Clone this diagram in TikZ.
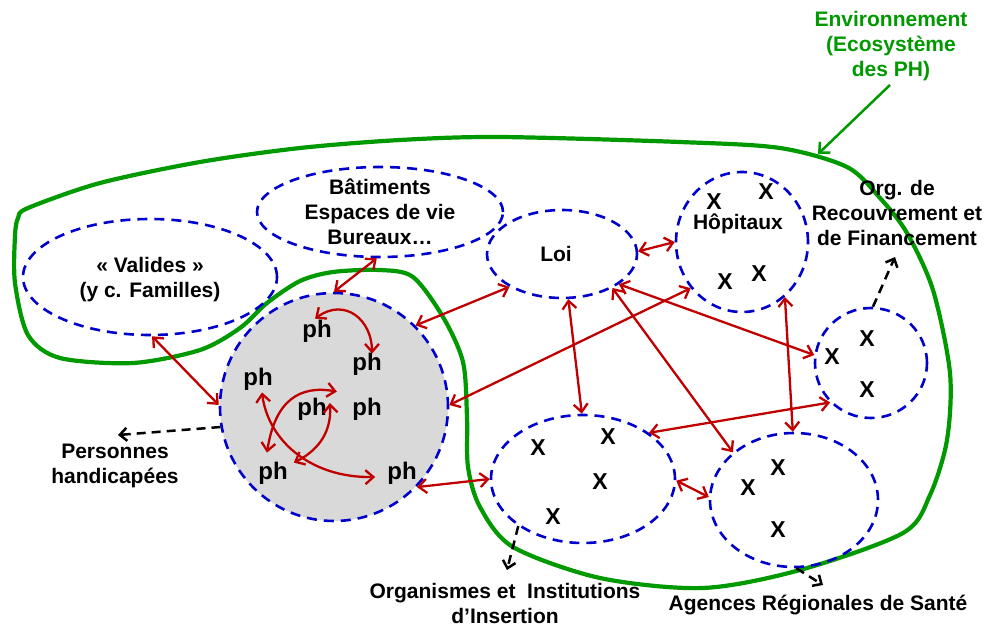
\documentclass[tikz,border=0pt]{standalone}
\usepackage{fontspec}
\setmainfont{Liberation Sans}
\usetikzlibrary{shapes.geometric,arrows.meta}
\definecolor{dblue}{HTML}{0000CC}
\definecolor{dred}{HTML}{C00000}
\definecolor{dgreen}{HTML}{009900}
\definecolor{lgrey}{HTML}{D9D9D9}
\tikzset{
 txt/.style={font=\bfseries\fontsize{21}{25}\selectfont, align=center, inner sep=0pt},
 xtxt/.style={font=\bfseries\fontsize{23}{25}\selectfont, inner sep=0pt},
 phtxt/.style={font=\bfseries\fontsize{24}{26}\selectfont, inner sep=2pt},
 blueell/.style={ellipse, draw=dblue, line width=2.6pt, dash pattern=on 10pt off 7pt, inner sep=0pt},
 redarr/.style={draw=dred, line width=2.3pt, {Straight Barb[length=8pt,width=14pt]}-{Straight Barb[length=8pt,width=14pt]}},
 blkarr/.style={draw=black, line width=2.5pt, dash pattern=on 9pt off 6pt, -{Straight Barb[length=7pt,width=13pt]}},
 envline/.style={draw=dgreen, line width=4.2pt},
 envarr/.style={draw=dgreen, line width=2.5pt, -{Straight Barb[length=8pt,width=15pt]}},
}
\begin{document}
\begin{tikzpicture}[x=1pt,y=-1pt]
\useasboundingbox (0,0) rectangle (989,627);
\fill[white] (0,0) rectangle (989,627);

% environment outline
\draw[envline] plot[smooth cycle, tension=0.5] coordinates {
 (28,208) (100,183) (200,162) (300,148) (400,140) (500,137) (680,142) (780,148)
 (847,167) (880,198) (907,233) (933,290) (950,373) (947,440) (930,495) (903,533)
 (800,570) (703,588) (600,578) (513,547) (480,507) (468,467) (467,417) (463,362)
 (443,317) (413,277) (380,270) (333,272) (300,281) (267,303) (240,328) (200,350)
 (133,363) (60,358) (28,335) (15,283) (15,236) (18,218)};

% ellipses
\node[blueell, minimum width=254pt, minimum height=116pt] (val) at (150,277) {};
\node[blueell, minimum width=246pt, minimum height=90pt] (bat) at (380,212) {};
\node[blueell, minimum width=150pt, minimum height=88pt] (loi) at (562,254) {};
\node[blueell, minimum width=132pt, minimum height=140pt] (hop) at (742,242) {};
\node[blueell, minimum width=112pt, minimum height=110pt] (org) at (871,363) {};
\node[blueell, fill=lgrey, minimum width=228pt, minimum height=228pt] (ph) at (334,407) {};
\node[blueell, minimum width=184pt, minimum height=128pt] (ins) at (583,479) {};
\node[blueell, minimum width=168pt, minimum height=134pt] (ars) at (794,500) {};

% texts
\node[txt] (tval) at (150,280) {« Valides »\\(y c. Familles)};
\node[txt] (tbat) at (380,212) {Bâtiments\\Espaces de vie\\Bureaux…};
\node[txt] (tloi) at (556,254) {Loi};
\node[txt] (thop) at (738,224) {Hôpitaux};
\node[txt] (torg) at (897,213) {Org. de\\Recouvrement et\\de Financement};
\node[txt] (tph) at (115,466) {Personnes\\handicapées};
\node[txt] (tins) at (505,603) {Organismes et\ \ Institutions\\d’Insertion};
\node[txt] (tars) at (818,605) {Agences Régionales de Santé};
\node[txt, text=dgreen] (env) at (891,46) {Environnement\\(Ecosystème\\des PH)};

% X marks
\node[xtxt] (x1) at (714,202) {X};
\node[xtxt] (x2) at (766,192) {X};
\node[xtxt] (x3) at (725,282) {X};
\node[xtxt] (x4) at (759,274) {X};
\node[xtxt] (x5) at (832,357) {X};
\node[xtxt] (x6) at (867,339) {X};
\node[xtxt] (x7) at (867,390) {X};
\node[xtxt] (x8) at (538,448) {X};
\node[xtxt] (x9) at (608,437) {X};
\node[xtxt] (x10) at (600,482) {X};
\node[xtxt] (x11) at (553,517) {X};
\node[xtxt] (x12) at (748,488) {X};
\node[xtxt] (x13) at (778,468) {X};
\node[xtxt] (x14) at (778,530) {X};

% ph nodes
\node[phtxt] (p1) at (317,331) {ph};
\node[phtxt] (p2) at (367,364) {ph};
\node[phtxt] (p3) at (258,379) {ph};
\node[phtxt] (p4) at (312,409) {ph};
\node[phtxt] (p5) at (367,409) {ph};
\node[phtxt] (p6) at (273,473) {ph};
\node[phtxt] (p7) at (402,473) {ph};

% internal arrows
\draw[redarr] ([shift={(-2,1)}]p1.north) .. controls (345,297) and (372,320) .. ([shift={(5,3)}]p2.north);
\draw[redarr] ([shift={(4,0)}]p3.south) .. controls (268,440) and (310,478) .. ([shift={(-10,4)}]p7.west);
\draw[redarr] ([shift={(-6,-7)}]p6.north) .. controls (275,400) and (300,385) .. ([shift={(8,-4)}]p4.north east);
\draw[redarr] ([shift={(1,-6)}]p4.east) .. controls (332,435) and (315,452) .. ([shift={(4,3)}]p6.north east);

% red links
\draw[redarr] (val.-88) -- (ph.179);
\draw[redarr] (bat.-94) -- (ph.90);
\draw[redarr] (loi.-148) -- (ph.45);
\draw[redarr] (hop.-138) -- (ph.1);
\draw[redarr] (ins.180) -- (ph.-44);
\draw[redarr] (loi.2) -- (hop.180);
\draw[redarr] (loi.-82) -- (ins.91);
\draw[redarr] (loi.-28) -- (org.172);
\draw[redarr] (loi.-34) -- (ars.142);
\draw[redarr] (hop.-52) -- (ars.91);
\draw[redarr] (org.-136) -- (ins.35);
\draw[redarr] (ins.-1) -- (ars.178);

% black dashed pointers
\coordinate (ephs) at (118,435);
\coordinate (eins) at (507,570);
\coordinate (ears) at (823,585);
\coordinate (eorg) at (895,257);
\draw[blkarr] (ph.-170) -- (ephs);
\draw[blkarr] (ins.-144) -- (eins);
\draw[blkarr] (ars.-88) -- (ears);
\draw[blkarr] (org.88) -- (eorg);

% green pointer
\coordinate (eenv) at (818,154);
\draw[envarr] ([shift={(-1,4)}]env.south) -- (eenv);
\end{tikzpicture}
\end{document}
